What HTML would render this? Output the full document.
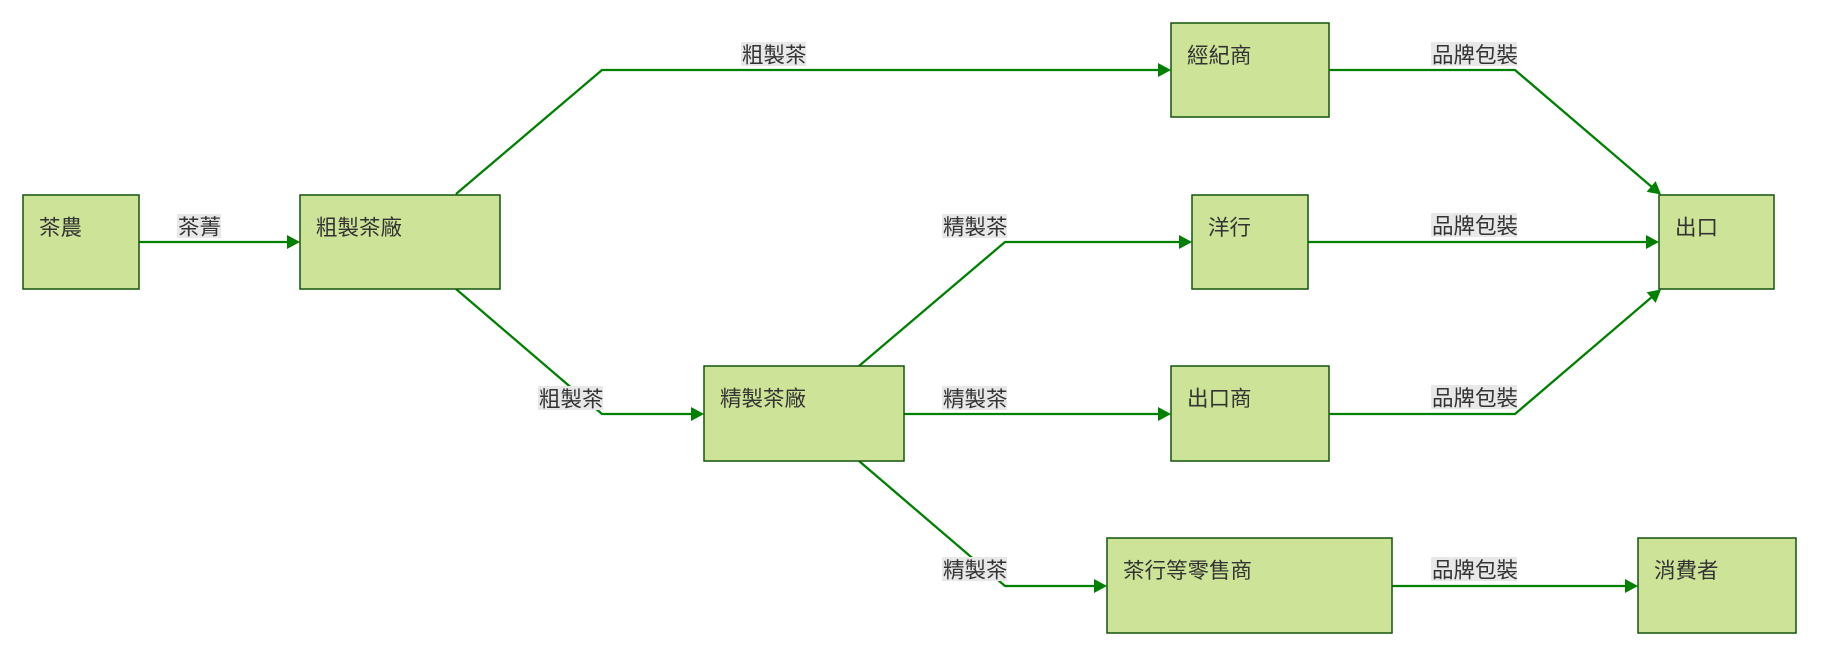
<!DOCTYPE html>
<html>
<head>
<meta charset="utf-8">
<style>
html,body{margin:0;padding:0;background:#fff;}
body{width:1824px;height:658px;overflow:hidden;}
svg{display:block;}
.n{fill:#cde498;stroke:#13540c;stroke-width:1.5;}
.t{font-family:"Liberation Sans","Noto Sans CJK TC",sans-serif;font-size:21.5px;fill:#333;}
.e{fill:none;stroke:#008000;stroke-width:2.3;}
.a{fill:#008000;stroke:none;}
.lb{fill:#e8e8e8;}
</style>
</head>
<body>
<svg width="1824" height="658" viewBox="0 0 1824 658" xmlns="http://www.w3.org/2000/svg">
  <!-- edges -->
  <polyline class="e" points="139,242 290,242"/>
  <polyline class="e" points="456,194 602,70 1160,70"/>
  <polyline class="e" points="456,289 602,414 694,414"/>
  <polyline class="e" points="859,366 1005,242 1181,242"/>
  <polyline class="e" points="904,414 1160,414"/>
  <polyline class="e" points="859,461 1005,586 1097,586"/>
  <polyline class="e" points="1329,70 1515,70 1653,188"/>
  <polyline class="e" points="1307,242 1649,242"/>
  <polyline class="e" points="1329,414 1515,414 1653,296"/>
  <polyline class="e" points="1392,586 1627,586"/>

  <!-- arrowheads -->
  <polygon class="a" points="287,235 300,242 287,249"/>
  <polygon class="a" points="1158,63 1171,70 1158,77"/>
  <polygon class="a" points="691,407 704,414 691,421"/>
  <polygon class="a" points="1179,235 1192,242 1179,249"/>
  <polygon class="a" points="1158,407 1171,414 1158,421"/>
  <polygon class="a" points="1094,579 1107,586 1094,593"/>
  <polygon class="a" points="1625,579 1638,586 1625,593"/>
  <polygon class="a" points="1646,235 1659,242 1646,249"/>
  <polygon class="a" points="1646.6,191.8 1661,194.5 1655.7,181.1"/>
  <polygon class="a" points="1655.7,302.9 1661,289.5 1646.6,292.2"/>

  <!-- nodes -->
  <rect class="n" x="23" y="195" width="116" height="94"/>
  <text class="t" x="39" y="235">茶農</text>

  <rect class="n" x="300" y="195" width="200" height="94"/>
  <text class="t" x="316" y="235">粗製茶廠</text>

  <rect class="n" x="1171" y="23" width="158" height="94"/>
  <text class="t" x="1187" y="63">經紀商</text>

  <rect class="n" x="1192" y="195" width="116" height="94"/>
  <text class="t" x="1208" y="235">洋行</text>

  <rect class="n" x="1659" y="195" width="115" height="94"/>
  <text class="t" x="1675" y="235">出口</text>

  <rect class="n" x="704" y="366" width="200" height="95"/>
  <text class="t" x="720" y="406">精製茶廠</text>

  <rect class="n" x="1171" y="366" width="158" height="95"/>
  <text class="t" x="1187" y="406">出口商</text>

  <rect class="n" x="1107" y="538" width="285" height="95"/>
  <text class="t" x="1123" y="578">茶行等零售商</text>

  <rect class="n" x="1638" y="538" width="158" height="95"/>
  <text class="t" x="1654" y="578">消費者</text>

  <!-- edge labels -->
  <rect class="lb" x="177" y="214" width="44" height="24"/>
  <text class="t" x="178" y="234.5">茶菁</text>

  <rect class="lb" x="741" y="42" width="65" height="24"/>
  <text class="t" x="742" y="62.5">粗製茶</text>

  <rect class="lb" x="538" y="386" width="65" height="24"/>
  <text class="t" x="539" y="406.5">粗製茶</text>

  <rect class="lb" x="942" y="214" width="65" height="24"/>
  <text class="t" x="943" y="234.5">精製茶</text>

  <rect class="lb" x="942" y="386" width="65" height="24"/>
  <text class="t" x="943" y="406.5">精製茶</text>

  <rect class="lb" x="942" y="557" width="65" height="24"/>
  <text class="t" x="943" y="577.5">精製茶</text>

  <rect class="lb" x="1431" y="42" width="86" height="24"/>
  <text class="t" x="1432" y="62.5">品牌包裝</text>

  <rect class="lb" x="1431" y="213" width="86" height="24"/>
  <text class="t" x="1432" y="233.5">品牌包裝</text>

  <rect class="lb" x="1431" y="385" width="86" height="24"/>
  <text class="t" x="1432" y="405.5">品牌包裝</text>

  <rect class="lb" x="1431" y="557" width="86" height="24"/>
  <text class="t" x="1432" y="577.5">品牌包裝</text>
</svg>
</body>
</html>
